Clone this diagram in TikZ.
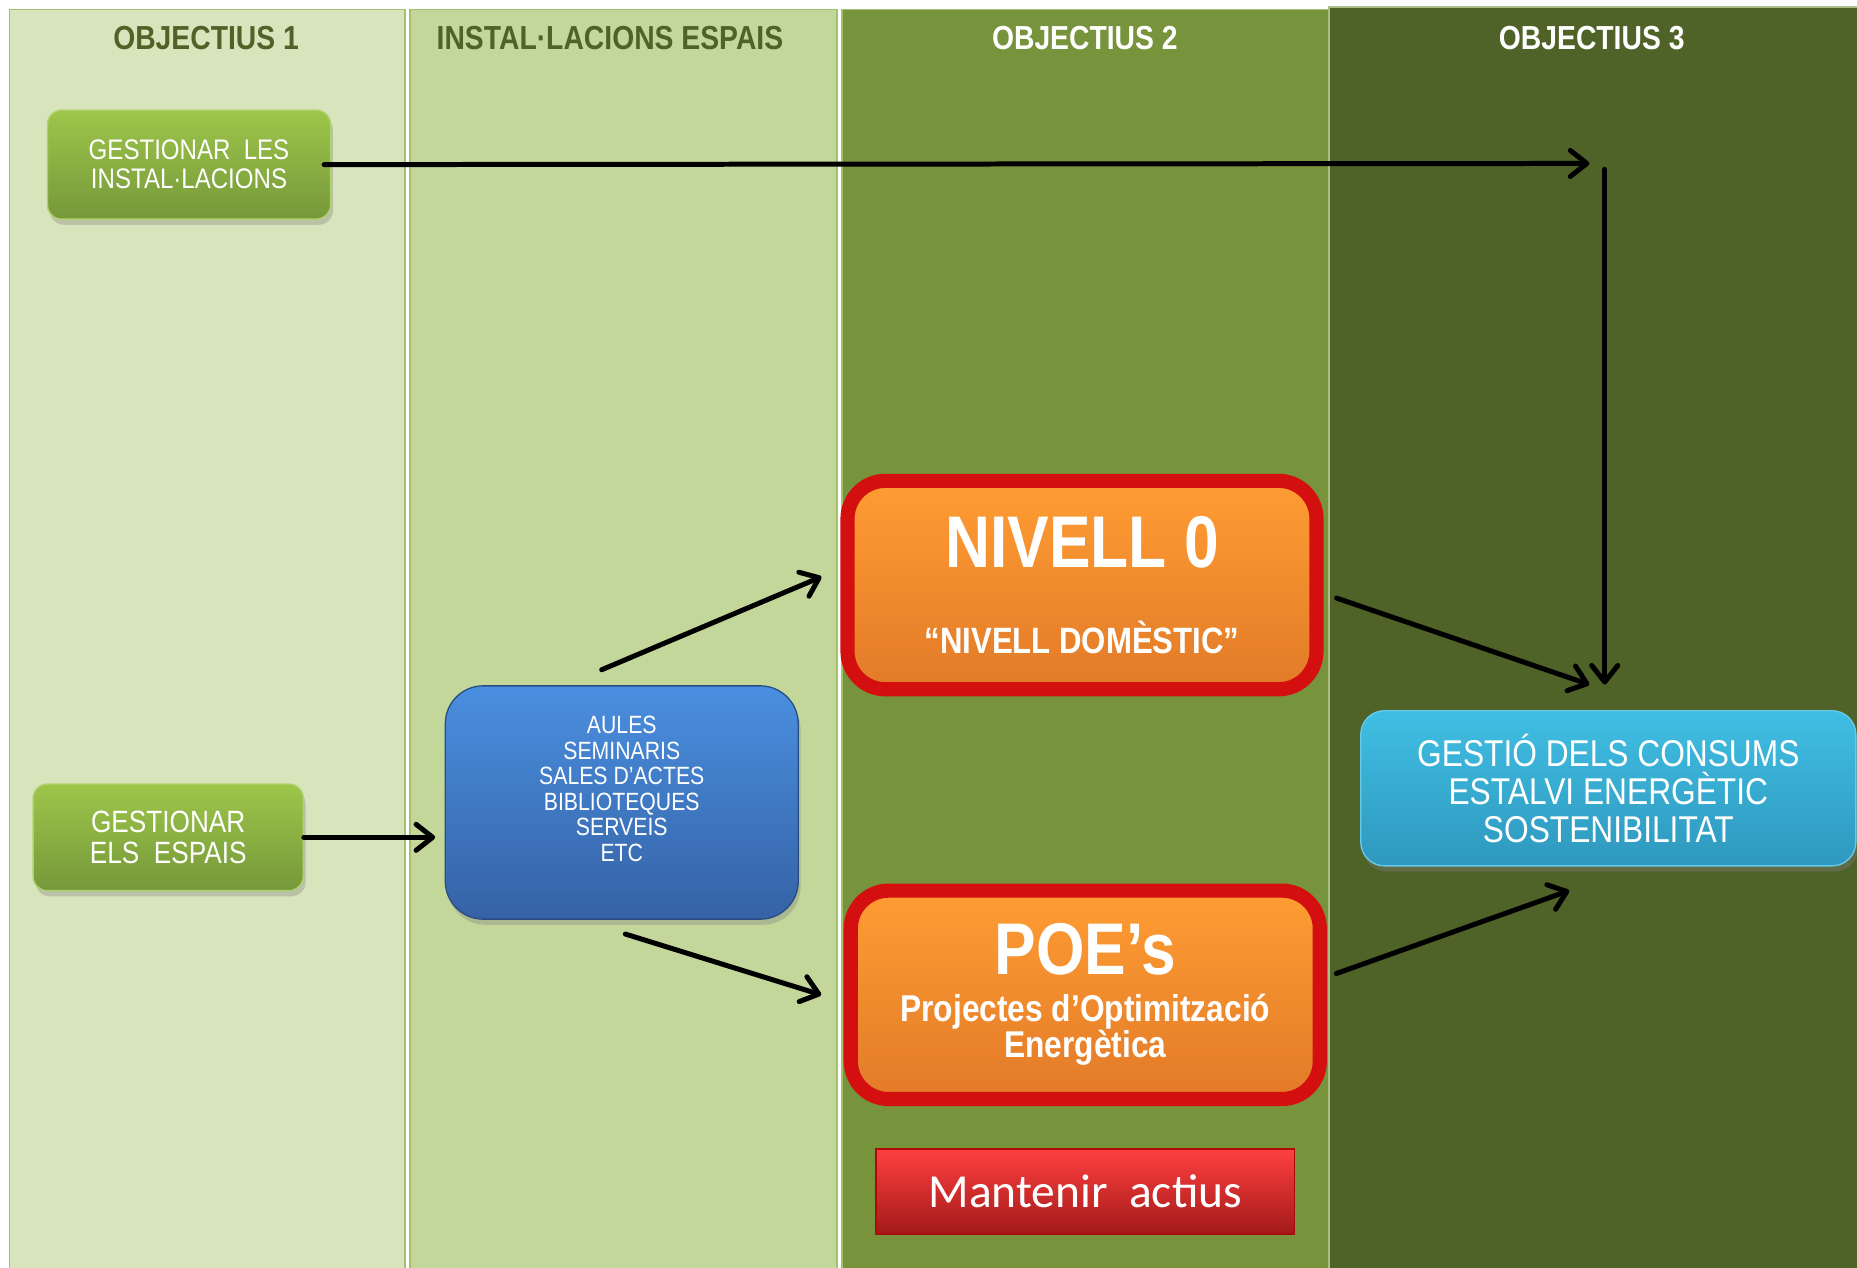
\documentclass[tikz,border=0pt]{standalone}
\usepackage{fontspec}
\setmainfont{Liberation Sans}[FakeStretch=0.85]
\newfontfamily\calibri{Carlito}
\usepackage{tikz}
\usetikzlibrary{arrows.meta,positioning,calc,shadows}
\definecolor{laneA}{HTML}{D8E4BC}
\definecolor{laneB}{HTML}{C4D79B}
\definecolor{laneC}{HTML}{77933C}
\definecolor{laneD}{HTML}{4F6228}
\definecolor{laneline}{HTML}{A2C16A}
\definecolor{greentop}{HTML}{9DC64A}
\definecolor{greenbot}{HTML}{76983A}
\definecolor{bluetop}{HTML}{4A8FE0}
\definecolor{bluebot}{HTML}{3562A5}
\definecolor{orangetop}{HTML}{FF9D33}
\definecolor{orangebot}{HTML}{E27A28}
\definecolor{redline}{HTML}{D40F0F}
\definecolor{cyantop}{HTML}{40BEE3}
\definecolor{cyanbot}{HTML}{2F98BE}
\tikzstyle{lane} = [draw=laneline,line width=1pt]
\tikzstyle{heading} = [font=\fontsize{20}{22}\selectfont\bfseries]
\tikzstyle{task} = [rounded corners=0.3cm,draw=greentop!80!white,line width=0.8pt,top color=greentop,bottom color=greenbot,text=white,align=center,drop shadow={opacity=0.35,shadow xshift=0.05cm,shadow yshift=-0.12cm}]
\tikzstyle{level} = [rounded corners=0.8cm,draw=redline,line width=8.5pt,top color=orangetop,bottom color=orangebot,text=white,align=center,font=\bfseries,minimum width=9.9cm,minimum height=4.4cm]
\tikzstyle{flow} = [line width=3pt,line cap=round,arrows={-Straight Barb[length=3.5mm,width=5.5mm,round]}]

\begin{document}
\begin{tikzpicture}
\useasboundingbox[fill=white] (0,0) rectangle (39.2,-26.75);
% columns
\filldraw[lane,fill=laneA] (0.2,-0.2) rectangle (8.55,-27);
\filldraw[lane,fill=laneB] (8.65,-0.2) rectangle (17.675,-27);
\filldraw[lane,fill=laneC] (17.775,-0.2) rectangle (28.05,-27);
\filldraw[lane,draw=laneC!60!white,fill=laneD] (28.05,-0.15) rectangle (39.6,-27);

\node (obj1)[heading,text=laneD] at (4.35,-0.8) {OBJECTIUS 1};
\node (espais)[heading,text=laneD] at (12.875,-0.8) {INSTAL·LACIONS ESPAIS};
\node (obj2)[heading,text=white] at (22.9,-0.8) {OBJECTIUS 2};
\node (obj3)[heading,text=white] at (33.6,-0.8) {OBJECTIUS 3};

% boxes
\node (instal)[task,minimum width=5.975cm,minimum height=2.3cm,font=\fontsize{17}{17.5}\selectfont] at (3.99,-3.475) {GESTIONAR\ \ LES\\INSTAL·LACIONS};
\node (gespais)[task,minimum width=5.7cm,minimum height=2.25cm,font=\fontsize{18.5}{18.5}\selectfont] at (3.55,-17.675) {GESTIONAR\\ELS\ \ ESPAIS};
\node (llocs)[rounded corners=0.8cm,draw=bluebot!80!black,line width=0.8pt,top color=bluetop,bottom color=bluebot,minimum width=7.45cm,minimum height=4.925cm,drop shadow={opacity=0.35,shadow xshift=0.05cm,shadow yshift=-0.12cm}] at (13.125,-16.94) {};
\node (llocstext)[text=white,align=center,font=\fontsize{15}{15.3}\selectfont] at (13.125,-16.65) {AULES\\SEMINARIS\\SALES D'ACTES\\BIBLIOTEQUES\\SERVEIS\\ETC};

\node (nivell)[level] at (22.84,-12.35) {\fontsize{44}{46}\selectfont NIVELL 0\\[1.08cm]\fontsize{22}{24}\selectfont “NIVELL DOMÈSTIC”};
\node (poe)[level] at (22.91,-21.0) {\fontsize{44}{44}\selectfont POE’s\\[0.35cm]\fontsize{22.4}{24}\selectfont Projectes d’Optimització\\\fontsize{22.4}{24}\selectfont Energètica};
\node (actius)[draw=redline!80!black,line width=1pt,top color=red!75!white,bottom color=red!60!black!90,text=white,minimum width=8.825cm,minimum height=1.8cm,font=\calibri\fontsize{28.5}{30}\selectfont] at (22.91,-25.15) {Mantenir\ \ actius};
\node (gestio)[rounded corners=0.5cm,draw=cyantop!80!white,line width=0.8pt,top color=cyantop,bottom color=cyanbot,text=white,align=center,minimum width=10.45cm,minimum height=3.275cm,font=\fontsize{22.4}{22.7}\selectfont,drop shadow={opacity=0.35,shadow xshift=0.05cm,shadow yshift=-0.12cm}] at (33.95,-16.64) {GESTIÓ DELS CONSUMS\\ESTALVI ENERGÈTIC\\SOSTENIBILITAT};

% free ends
\coordinate (turn) at (33.55,-3.45);
\coordinate (drop) at (33.875,-3.575);
\coordinate (meet) at (33.55,-14.45);
\coordinate (rise) at (33.125,-18.8);

% arrows
\draw[flow] ([xshift=-0.15cm]instal.east) -- (turn);
\draw[flow] (drop) -- (drop |- meet);
\draw[flow] ([xshift=0.275cm,yshift=-0.275cm]nivell.east) -- (meet);
\draw[flow] ([xshift=0.2cm,yshift=0.45cm]poe.east) -- (rise);
\draw[flow] (gespais.east) -- ([xshift=-0.2cm]gespais.east -| llocs.west);
\draw[flow] ([xshift=-0.425cm,yshift=0.325cm]llocs.north) -- ([xshift=-0.4cm,yshift=0.175cm]nivell.west);
\draw[flow] ([xshift=0.075cm,yshift=-0.3cm]llocs.south) -- ([xshift=-0.475cm]poe.west);
\end{tikzpicture}
\end{document}
